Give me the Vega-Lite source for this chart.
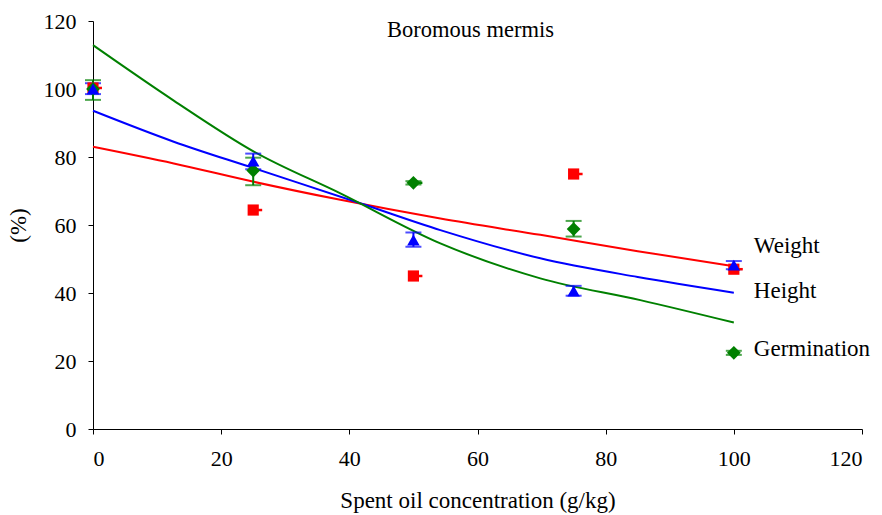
{
  "$schema": "https://vega.github.io/schema/vega-lite/v6.json",
  "width": 769,
  "height": 408,
  "autosize": "none",
  "padding": {"left": 93, "top": 21, "right": 20, "bottom": 86},
  "background": "white",
  "config": {
    "view": {"stroke": null},
    "font": "'Liberation Serif', 'DejaVu Serif', serif",
    "axis": {"grid": false, "domainColor": "#000", "tickColor": "#000", "tickSize": 5, "labelFont": "'Liberation Serif', 'DejaVu Serif', serif", "labelFontSize": 22, "labelColor": "#000", "titleFont": "'Liberation Serif', 'DejaVu Serif', serif", "titleFontSize": 23, "titleFontWeight": "normal", "titleColor": "#000", "domainWidth": 1}
  },
  "datasets": {
    "fits": [
      {"series": "Weight", "x": 0, "y": 83.0},
      {"series": "Weight", "x": 12.6, "y": 78.1},
      {"series": "Weight", "x": 25.1, "y": 72.7},
      {"series": "Weight", "x": 38.6, "y": 67.4},
      {"series": "Weight", "x": 54.2, "y": 61.9},
      {"series": "Weight", "x": 69.8, "y": 57.1},
      {"series": "Weight", "x": 85.0, "y": 52.3},
      {"series": "Weight", "x": 100, "y": 47.9},
      {"series": "Height", "x": 0, "y": 93.6},
      {"series": "Height", "x": 12.6, "y": 84.5},
      {"series": "Height", "x": 25.1, "y": 76.7},
      {"series": "Height", "x": 41.7, "y": 66.4},
      {"series": "Height", "x": 54.2, "y": 58.5},
      {"series": "Height", "x": 69.8, "y": 50.2},
      {"series": "Height", "x": 85.0, "y": 44.7},
      {"series": "Height", "x": 100, "y": 40.1},
      {"series": "Germination", "x": 0, "y": 112.9},
      {"series": "Germination", "x": 12.6, "y": 96.6},
      {"series": "Germination", "x": 25.1, "y": 81.6},
      {"series": "Germination", "x": 38.6, "y": 69.3},
      {"series": "Germination", "x": 54.2, "y": 54.6},
      {"series": "Germination", "x": 69.8, "y": 44.3},
      {"series": "Germination", "x": 85.4, "y": 37.9},
      {"series": "Germination", "x": 100, "y": 31.3}
    ],
    "points": [
      {"series": "Weight", "x": 0, "y": 100.3, "lo": 100.3, "hi": 100.3, "xe": 1.4},
      {"series": "Weight", "x": 25, "y": 64.4, "lo": 64.4, "hi": 64.4, "xe": 26.4},
      {"series": "Weight", "x": 50, "y": 45.0, "lo": 45.0, "hi": 45.0, "xe": 51.4},
      {"series": "Weight", "x": 75, "y": 75.0, "lo": 75.0, "hi": 75.0, "xe": 76.4},
      {"series": "Weight", "x": 100, "y": 47.0, "lo": 47.0, "hi": 47.0, "xe": 101.4},
      {"series": "Germination", "x": 0, "y": 100.0, "lo": 96.8, "hi": 102.6, "xe": 0},
      {"series": "Germination", "x": 25, "y": 76.0, "lo": 71.7, "hi": 79.8, "xe": 25},
      {"series": "Germination", "x": 50, "y": 72.4, "lo": 71.9, "hi": 72.9, "xe": 51.4},
      {"series": "Germination", "x": 75, "y": 58.8, "lo": 56.6, "hi": 61.2, "xe": 75},
      {"series": "Germination", "x": 100, "y": 22.4, "lo": 21.8, "hi": 23.0, "xe": 100},
      {"series": "Height", "x": 0, "y": 100.0, "lo": 98.5, "hi": 101.7, "xe": 0},
      {"series": "Height", "x": 25, "y": 78.8, "lo": 76.4, "hi": 81.0, "xe": 25},
      {"series": "Height", "x": 50, "y": 55.6, "lo": 53.6, "hi": 57.8, "xe": 50},
      {"series": "Height", "x": 75, "y": 40.6, "lo": 39.2, "hi": 42.1, "xe": 75},
      {"series": "Height", "x": 100, "y": 48.2, "lo": 47.0, "hi": 49.4, "xe": 100}
    ],
    "labels": [
      {"label": "Weight", "x": 100, "y": 53.8},
      {"label": "Height", "x": 100, "y": 40.5},
      {"label": "Germination", "x": 100, "y": 23.5}
    ],
    "title": [
      {"label": "Boromous mermis", "x": 58.9, "y": 117.3}
    ]
  },
  "layer": [
    {
      "data": {"name": "fits"},
      "mark": {"type": "line", "strokeWidth": 2, "interpolate": "monotone"},
      "encoding": {
        "x": {"field": "x", "type": "quantitative", "scale": {"domain": [0, 120], "nice": false}, "axis": {"values": [0, 20, 40, 60, 80, 100, 120], "title": "Spent oil concentration (g/kg)", "titlePadding": 20, "labelPadding": 14}},
        "y": {"field": "y", "type": "quantitative", "scale": {"domain": [0, 120], "nice": false}, "axis": {"values": [0, 20, 40, 60, 80, 100, 120], "title": "(%)", "titlePadding": 13, "labelPadding": 12}},
        "color": {"field": "series", "type": "nominal", "scale": {"domain": ["Weight", "Height", "Germination"], "range": ["#ff0000", "#0000ff", "#008000"]}, "legend": null},
        "detail": {"field": "series"}
      }
    },
    {
      "data": {"name": "points"},
      "transform": [{"filter": "datum.series !== 'Weight'"}],
      "mark": {"type": "rule", "strokeWidth": 2},
      "encoding": {
        "x": {"field": "x", "type": "quantitative"},
        "y": {"field": "lo", "type": "quantitative"},
        "y2": {"field": "hi"},
        "color": {"field": "series", "type": "nominal", "scale": {"domain": ["Weight", "Height", "Germination"], "range": ["#ff0000", "#000000", "#008000"]}, "legend": null}
      }
    },
    {
      "data": {"name": "points"},
      "transform": [{"filter": "datum.series !== 'Weight'"}],
      "mark": {"type": "tick", "orient": "horizontal", "size": 16, "thickness": 2},
      "encoding": {
        "x": {"field": "x", "type": "quantitative"},
        "y": {"field": "lo", "type": "quantitative"},
        "color": {"field": "series", "type": "nominal", "scale": {"domain": ["Weight", "Height", "Germination"], "range": ["#ff0000", "#000000", "#008000"]}, "legend": null}
      }
    },
    {
      "data": {"name": "points"},
      "transform": [{"filter": "datum.series !== 'Weight'"}],
      "mark": {"type": "tick", "orient": "horizontal", "size": 16, "thickness": 2},
      "encoding": {
        "x": {"field": "x", "type": "quantitative"},
        "y": {"field": "hi", "type": "quantitative"},
        "color": {"field": "series", "type": "nominal", "scale": {"domain": ["Weight", "Height", "Germination"], "range": ["#ff0000", "#000000", "#008000"]}, "legend": null}
      }
    },
    {
      "data": {"name": "points"},
      "transform": [{"filter": "datum.series === 'Weight' || datum.x === 50"}],
      "mark": {"type": "rule", "strokeWidth": 2.5},
      "encoding": {
        "x": {"field": "x", "type": "quantitative"},
        "x2": {"field": "xe"},
        "y": {"field": "y", "type": "quantitative"},
        "color": {"field": "series", "type": "nominal", "scale": {"domain": ["Weight", "Height", "Germination"], "range": ["#ff0000", "#0000ff", "#008000"]}, "legend": null}
      }
    },
    {
      "data": {"name": "points"},
      "mark": {"type": "point", "filled": true, "opacity": 1},
      "encoding": {
        "x": {"field": "x", "type": "quantitative"},
        "y": {"field": "y", "type": "quantitative"},
        "color": {"field": "series", "type": "nominal", "scale": {"domain": ["Weight", "Height", "Germination"], "range": ["#ff0000", "#0000ff", "#008000"]}, "legend": null},
        "shape": {"field": "series", "type": "nominal", "scale": {"domain": ["Weight", "Height", "Germination"], "range": ["square", "triangle-up", "diamond"]}, "legend": null},
        "size": {"field": "series", "type": "nominal", "scale": {"domain": ["Weight", "Height", "Germination"], "range": [125, 190, 170]}, "legend": null}
      }
    },
    {
      "data": {"name": "labels"},
      "mark": {"type": "text", "align": "left", "baseline": "middle", "dx": 20, "fontSize": 23, "font": "'Liberation Serif', 'DejaVu Serif', serif", "color": "#000"},
      "encoding": {
        "x": {"field": "x", "type": "quantitative"},
        "y": {"field": "y", "type": "quantitative"},
        "text": {"field": "label"}
      }
    },
    {
      "data": {"name": "title"},
      "mark": {"type": "text", "align": "center", "baseline": "middle", "fontSize": 22.5, "font": "'Liberation Serif', 'DejaVu Serif', serif", "color": "#000"},
      "encoding": {
        "x": {"field": "x", "type": "quantitative"},
        "y": {"field": "y", "type": "quantitative"},
        "text": {"field": "label"}
      }
    }
  ]
}
